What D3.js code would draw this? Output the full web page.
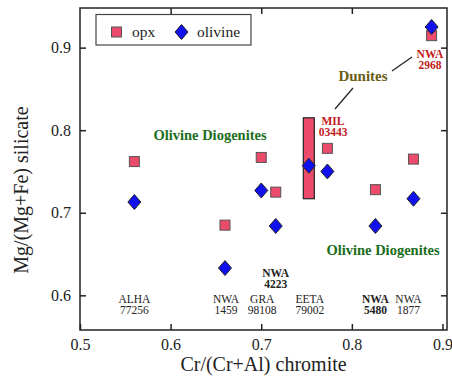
<!DOCTYPE html>
<html>
<head>
<meta charset="utf-8">
<script src="https://cdn.jsdelivr.net/npm/d3@7"></script>
<style>
  body { margin: 0; background: #fff; }
</style>
</head>
<body>
<div id="chart"></div>
<script>
// meteorite names (two-line labels) and values
var names = ["ALHA 77256", "NWA 1459", "GRA 98108", "NWA 4223", "EETA 79002",
             "MIL 03443", "NWA 5480", "NWA 1877", "NWA 2968"];
var crChromite = [0.560, 0.660, 0.700, 0.716, 0.7525, 0.773, 0.826, 0.868, 0.888];
var opxMg =      [0.762, 0.685, 0.767, 0.725, null,   0.778, 0.728, 0.765, 0.9145];
var olivineMg =  [0.713, 0.633, 0.727, 0.684, 0.757,  0.750, 0.684, 0.717, 0.925];
// EETA 79002 opx given as a range
var opxRange = { x: 0.7525, lo: 0.717, hi: 0.815 };

var xTicks = [0.5, 0.6, 0.7, 0.8, 0.9];
var yTicks = [0.6, 0.7, 0.8, 0.9];

var width = 452, height = 377;
var margin = { top: 8, right: 5, bottom: 47, left: 80 };
var serif = "'Liberation Serif', 'Times New Roman', Times, 'DejaVu Serif', serif";

var svg = d3.select("#chart")
    .append("svg")
    .attr("width", width)
    .attr("height", height)
    .attr("font-family", serif)
    .style("font-family", serif);

var x = d3.scaleLinear()
    .domain([0.5, 0.905])
    .range([margin.left, width - margin.right]);

var y = d3.scaleLinear()
    .domain([0.558, 0.948])
    .range([height - margin.bottom, margin.top]);

var x0 = margin.left, x1 = width - margin.right;
var y0 = height - margin.bottom, y1 = margin.top;

function styleAxis(g) {
    g.attr("font-family", serif);
    g.select(".domain").remove();
    g.selectAll("text").style("font-size", "16px").style("font-family", serif).attr("fill", "#222");
    g.selectAll("line").attr("stroke", "#222").attr("stroke-width", 1.5);
}

// axes with inward ticks on all four sides
svg.append("g")
    .attr("transform", "translate(0," + y0 + ")")
    .call(d3.axisBottom(x).tickValues(xTicks).tickFormat(d3.format(".1f")).tickSizeInner(-6).tickSizeOuter(0).tickPadding(9))
    .call(styleAxis);
svg.append("g")
    .attr("transform", "translate(0," + y1 + ")")
    .call(d3.axisTop(x).tickValues(xTicks.slice(1, 4)).tickFormat("").tickSizeInner(-6).tickSizeOuter(0))
    .call(styleAxis);
svg.append("g")
    .attr("transform", "translate(" + x0 + ",0)")
    .call(d3.axisLeft(y).tickValues(yTicks).tickFormat(d3.format(".1f")).tickSizeInner(-6).tickSizeOuter(0).tickPadding(9))
    .call(styleAxis);
svg.append("g")
    .attr("transform", "translate(" + x1 + ",0)")
    .call(d3.axisRight(y).tickValues(yTicks).tickFormat("").tickSizeInner(-6).tickSizeOuter(0))
    .call(styleAxis);

// frame
svg.append("rect")
    .attr("x", x0).attr("y", y1)
    .attr("width", x1 - x0).attr("height", y0 - y1)
    .attr("fill", "none")
    .attr("stroke", "#222")
    .attr("stroke-width", 1.5);

// axis titles
svg.append("text")
    .attr("x", (x0 + x1) / 2)
    .attr("y", 371)
    .attr("text-anchor", "middle")
    .style("font-size", "20px")
    .attr("fill", "#222")
    .text("Cr/(Cr+Al) chromite");

svg.append("text")
    .attr("transform", "translate(28," + 190 + ") rotate(-90)")
    .attr("text-anchor", "middle")
    .style("font-size", "20px")
    .attr("fill", "#222")
    .text("Mg/(Mg+Fe) silicate");

var opxFill = "#ec4b6c", opxStroke = "#555";
var olFill = "#1111ee", olStroke = "#222";

// EETA 79002 opx range bar
svg.append("rect")
    .attr("x", x(opxRange.x) - 5.5)
    .attr("y", y(opxRange.hi))
    .attr("width", 11)
    .attr("height", y(opxRange.lo) - y(opxRange.hi))
    .attr("fill", opxFill)
    .attr("stroke", "#222")
    .attr("stroke-width", 1.2);

var diamond = function (cx, cy) {
    return "M" + cx + "," + (cy - 7.5) + "L" + (cx + 6.5) + "," + cy +
        "L" + cx + "," + (cy + 7.5) + "L" + (cx - 6.5) + "," + cy + "Z";
};

// opx squares
svg.selectAll("rect.opx")
    .data(d3.range(names.length).filter(function (i) { return opxMg[i] !== null; }))
    .enter()
    .append("rect")
    .attr("class", "opx")
    .attr("x", function (i) { return x(crChromite[i]) - 5; })
    .attr("y", function (i) { return y(opxMg[i]) - 5; })
    .attr("width", 10)
    .attr("height", 10)
    .attr("fill", opxFill)
    .attr("stroke", opxStroke)
    .attr("stroke-width", 1);

// olivine diamonds
svg.selectAll("path.ol")
    .data(d3.range(names.length))
    .enter()
    .append("path")
    .attr("class", "ol")
    .attr("d", function (i) { return diamond(x(crChromite[i]), y(olivineMg[i])); })
    .attr("fill", olFill)
    .attr("stroke", olStroke)
    .attr("stroke-width", 1);

// sample labels along the bottom
var bottomLabels = [
    { i: 0, bold: false, y: 303, dx: 0 },
    { i: 1, bold: false, y: 303, dx: 1 },
    { i: 2, bold: false, y: 303, dx: 1 },
    { i: 3, bold: true, y: 277, dx: 0 },
    { i: 4, bold: false, y: 303, dx: 1 },
    { i: 6, bold: true, y: 303, dx: 0 },
    { i: 7, bold: false, y: 303, dx: -5 }
];
bottomLabels.forEach(function (d) {
    var parts = names[d.i].split(" ");
    parts.forEach(function (p, j) {
        svg.append("text")
            .attr("x", x(crChromite[d.i]) + d.dx)
            .attr("y", d.y + j * 11)
            .attr("text-anchor", "middle")
            .style("font-size", "11.5px")
            .style("font-weight", d.bold ? "bold" : "normal")
            .attr("fill", "#222")
            .text(p);
    });
});

// red labels
function redLabel(i, cx, cy) {
    var parts = names[i].split(" ");
    parts.forEach(function (p, j) {
        svg.append("text")
            .attr("x", cx).attr("y", cy + j * 11)
            .attr("text-anchor", "middle")
            .style("font-size", "11.5px")
            .style("font-weight", "bold")
            .attr("fill", "#c21a1a")
            .text(p);
    });
}
redLabel(8, 430, 58);
redLabel(5, 333, 125);

// group labels
svg.append("text")
    .attr("x", 210).attr("y", 140)
    .attr("text-anchor", "middle")
    .style("font-size", "14.5px").style("font-weight", "bold")
    .attr("fill", "#1c6e1c")
    .text("Olivine Diogenites");
svg.append("text")
    .attr("x", 383).attr("y", 255)
    .attr("text-anchor", "middle")
    .style("font-size", "14.5px").style("font-weight", "bold")
    .attr("fill", "#1c6e1c")
    .text("Olivine Diogenites");
svg.append("text")
    .attr("x", 363).attr("y", 81)
    .attr("text-anchor", "middle")
    .style("font-size", "15px").style("font-weight", "bold")
    .attr("fill", "#6b5d14")
    .text("Dunites");

// leader lines from Dunites
svg.append("line")
    .attr("x1", 392).attr("y1", 71).attr("x2", 412).attr("y2", 57)
    .attr("stroke", "#222").attr("stroke-width", 1.2);
svg.append("line")
    .attr("x1", 353).attr("y1", 88).attr("x2", 335).attr("y2", 109)
    .attr("stroke", "#222").attr("stroke-width", 1.2);

// legend
var legend = svg.append("g");
legend.append("rect")
    .attr("x", 96).attr("y", 14.5)
    .attr("width", 155).attr("height", 30.5)
    .attr("fill", "#fff")
    .attr("stroke", "#444")
    .attr("stroke-width", 1.2);
legend.append("rect")
    .attr("x", 111.5).attr("y", 27)
    .attr("width", 10).attr("height", 10)
    .attr("fill", opxFill).attr("stroke", opxStroke);
legend.append("text")
    .attr("x", 132).attr("y", 37)
    .style("font-size", "15.5px").attr("fill", "#222")
    .text("opx");
legend.append("path")
    .attr("d", diamond(181.5, 32))
    .attr("fill", olFill).attr("stroke", olStroke);
legend.append("text")
    .attr("x", 197).attr("y", 37)
    .style("font-size", "15.5px").attr("fill", "#222")
    .text("olivine");
</script>
</body>
</html>
